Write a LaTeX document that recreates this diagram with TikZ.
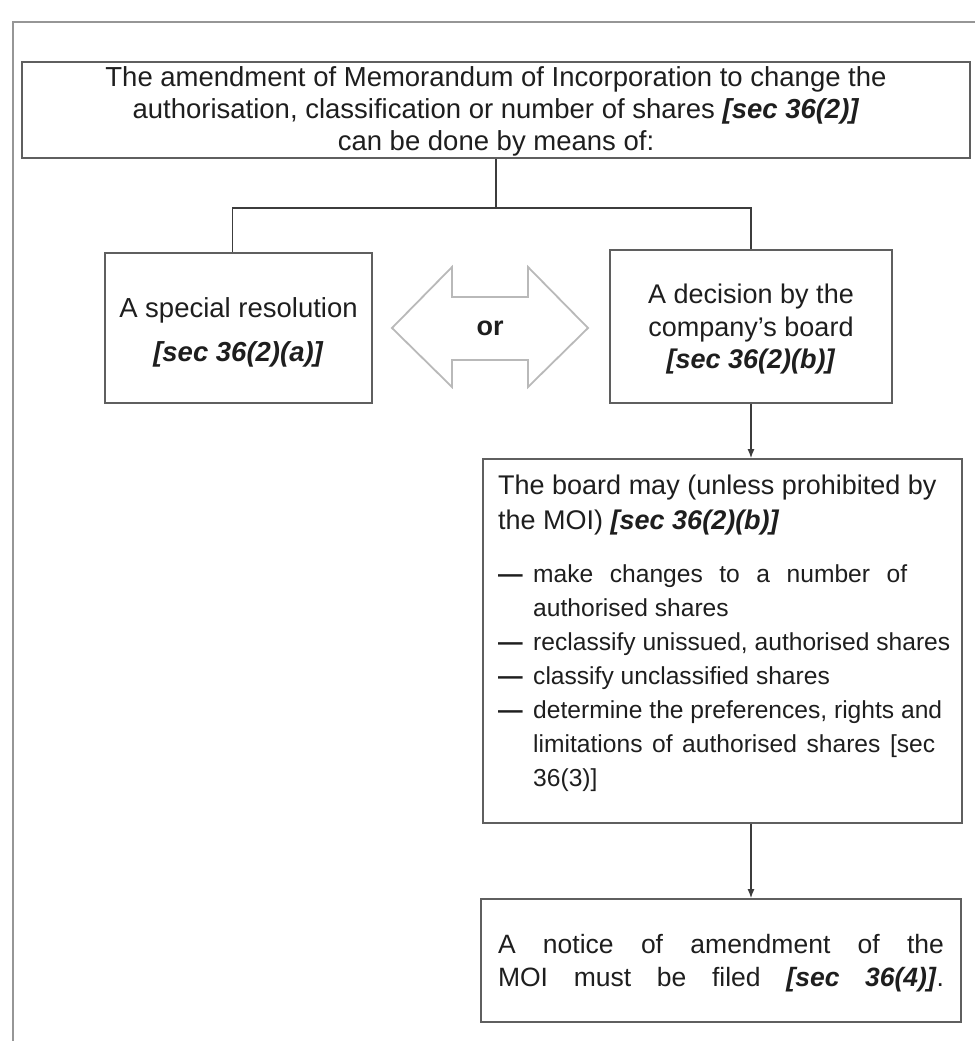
\documentclass[tikz,border=0pt]{standalone}
\usepackage{fontspec}
\setmainfont{Liberation Sans}
\usetikzlibrary{arrows.meta,calc}
\definecolor{boxgray}{RGB}{95,95,95}
\definecolor{linegray}{RGB}{60,60,60}
\definecolor{framegray}{RGB}{150,150,150}
\definecolor{arrowgray}{RGB}{185,185,185}
\definecolor{txt}{RGB}{30,30,30}
\newcommand{\secref}[1]{\textbf{\textit{#1}}}
\begin{document}
\begin{tikzpicture}[x=1pt,y=-1pt,
  box/.style={draw=boxgray, line width=1.8pt, inner sep=0pt},
  boxtext/.style={inner sep=0pt, align=center, text=txt},
  conn/.style={draw=linegray, line width=1.3pt},
  arr/.style={conn, -{Latex[length=9pt,width=7pt]}},
  dblarrow/.style={draw=arrowgray, line width=1.8pt, line join=miter},
  frame/.style={draw=framegray, line width=2pt}]
\useasboundingbox (0,0) rectangle (975,1041);
\draw[frame] (13,1041) -- (13,22) -- (975,22);

\node[box, minimum width=948pt, minimum height=96pt] (top) at (496,110) {};
\node[boxtext, font=\fontsize{27.5}{32}\selectfont] (toptxt) at ($(top.center)+(0,1)$)
  {The amendment of Memorandum of Incorporation to change the\\
   authorisation, classification or number of shares \secref{[sec 36(2)]}\\
   can be done by means of:};

\node[box, minimum width=267pt, minimum height=150pt] (lbox) at (238.5,328) {};
\node[boxtext, font=\fontsize{27.5}{44}\selectfont] (lboxtxt) at ($(lbox.center)+(0,4)$)
  {A special resolution\\ \secref{[sec 36(2)(a)]}};

\node[box, minimum width=282pt, minimum height=153pt] (rbox) at (751,326.5) {};
\node[boxtext, font=\fontsize{27}{32.5}\selectfont] (rboxtxt) at ($(rbox.center)+(0,3)$)
  {A decision by the\\ company’s board\\ \secref{[sec 36(2)(b)]}};

\draw[dblarrow] (392,328) -- (452,267) -- (452,297) -- (528,297) -- (528,267)
  -- (588,328) -- (528,387) -- (528,360) -- (452,360) -- (452,387) -- cycle;
\node[font=\fontsize{27}{30}\selectfont\bfseries, text=txt] (or) at (490,328) {or};

\node[box, minimum width=479pt, minimum height=364pt] (board) at (722.5,641) {};
\node[anchor=north west, inner sep=0pt, text width=460pt, align=flush left, text=txt,
  font=\fontsize{24.6}{34}\selectfont]
  (boardtxt) at (498,475)
  {{\fontsize{27}{35}\selectfont The board may (unless prohibited by\\
    the MOI) \secref{[sec 36(2)(b)]}\par}
   \vspace{19pt}
   {\fontsize{24.6}{34}\selectfont
    \makebox[35pt][l]{\textbf{—}}\makebox[374pt][s]{make changes to a number of}\\
    \hspace*{35pt}authorised shares\\
    \makebox[35pt][l]{\textbf{—}}reclassify unissued, authorised shares\\
    \makebox[35pt][l]{\textbf{—}}classify unclassified shares\\
    \makebox[35pt][l]{\textbf{—}}\makebox[409pt][s]{determine the preferences, rights and}\\
    \hspace*{35pt}\makebox[402pt][s]{limitations of authorised shares [sec}\\
    \hspace*{35pt}36(3)]\par}};

\node[box, minimum width=480pt, minimum height=123pt] (bottom) at (721,960.5) {};
\node[boxtext, font=\fontsize{26.5}{33}\selectfont] (bottomtxt) at ($(bottom.center)+(0,3)$)
  {\makebox[446pt][s]{A notice of amendment of the}\\
   \makebox[446pt][s]{MOI must be filed \secref{[sec 36(4)]}.}};

\coordinate (split) at (496,208);
\draw[conn] (top.south) -- (split);
\draw[conn] ($(lbox.north)+(-6,0)$) |- (split) -| (rbox.north);
\draw[arr] (rbox.south) -- (rbox.south |- board.north);
\draw[arr] (board.south -| rbox.south) -- (bottom.north -| rbox.south);
\end{tikzpicture}
\end{document}
